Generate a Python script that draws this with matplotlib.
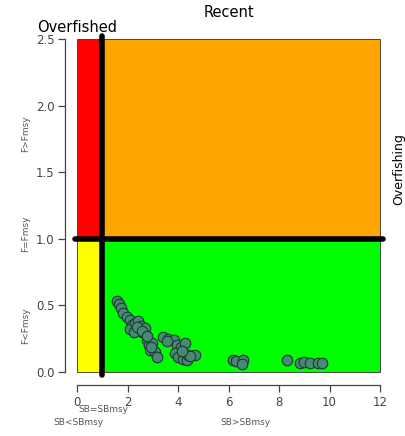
import matplotlib
matplotlib.use("Agg")
import matplotlib.pyplot as plt
from matplotlib.patches import Rectangle

# stock status points (SB/SBmsy, F/Fmsy)
sb = [1.57, 1.66, 1.74, 1.83, 1.97, 2.10, 2.17, 2.10, 2.30, 2.43, 2.53, 2.59,
      2.69, 2.27, 2.76, 2.83, 2.96, 2.89, 3.09, 3.16, 2.36, 2.56, 2.78, 2.92,
      3.42, 3.62, 3.82, 3.95, 4.10, 4.28, 3.88, 4.01, 4.21, 4.34, 4.41, 4.67,
      4.48, 3.55, 4.15,
      6.19, 6.30, 6.59, 6.55,
      8.30, 8.83, 9.00, 9.21, 9.56, 9.69]
f = [0.53, 0.51, 0.48, 0.445, 0.415, 0.39, 0.35, 0.32, 0.365, 0.38, 0.345, 0.30,
     0.33, 0.30, 0.24, 0.20, 0.215, 0.165, 0.15, 0.115, 0.34, 0.31, 0.27, 0.185,
     0.265, 0.25, 0.24, 0.20, 0.19, 0.215, 0.14, 0.115, 0.10, 0.09, 0.127, 0.127,
     0.12, 0.23, 0.16,
     0.09, 0.085, 0.09, 0.06,
     0.09, 0.07, 0.075, 0.07, 0.07, 0.07]

xmax = 12
ymax = 2.5
sb_ref = 1
f_ref = 1

fig = plt.figure(figsize=(4.06, 4.36), dpi=100)
ax = fig.add_axes([0.160, 0.1163, 0.806, 0.8248])
ax.set_xlim(-0.48, 12.48)
ax.set_ylim(-0.1, 2.6)

# quadrants
edge = dict(edgecolor="#333333", linewidth=0.6)
ax.add_patch(Rectangle((0, 0), sb_ref, f_ref, facecolor="#FFFF00", **edge))
ax.add_patch(Rectangle((sb_ref, 0), xmax - sb_ref, f_ref, facecolor="#00FF00", **edge))
ax.add_patch(Rectangle((0, f_ref), sb_ref, ymax - f_ref, facecolor="#FF0000", **edge))
ax.add_patch(Rectangle((sb_ref, f_ref), xmax - sb_ref, ymax - f_ref, facecolor="#FFA500", **edge))

ax.scatter(sb, f, s=58, facecolor="#458B74", edgecolor="#1f3a30", linewidth=0.8, zorder=3)

ax.plot([sb_ref, sb_ref], [-0.02, ymax + 0.02], color="black", lw=4,
        solid_capstyle="round", zorder=4)
ax.plot([-0.1, xmax + 0.1], [f_ref, f_ref], color="black", lw=4,
        solid_capstyle="round", zorder=4)

# R style axes
for s in ["top", "right"]:
    ax.spines[s].set_visible(False)
ax.spines["left"].set_bounds(0, ymax)
ax.spines["bottom"].set_bounds(0, xmax)
for s in ["left", "bottom"]:
    ax.spines[s].set_color("#444444")
    ax.spines[s].set_linewidth(0.9)
ax.set_xticks(range(0, 13, 2))
ax.set_yticks([0.0, 0.5, 1.0, 1.5, 2.0, 2.5])
ax.set_yticklabels(["0.0", "0.5", "1.0", "1.5", "2.0", "2.5"])
ax.tick_params(direction="out", length=5, width=0.9, color="#444444",
               labelsize=8.5, labelcolor="#444444", pad=2.5)

ax.set_title("Recent", fontsize=10.5, pad=6)
ax.text(0, 2.55, "Overfished", ha="center", va="baseline", fontsize=10.5, clip_on=False)
ax.text(12.72, 1.52, "Overfishing", ha="center", va="center", rotation=90,
        fontsize=9, clip_on=False)

lab = dict(fontsize=6.5, color="#555555", ha="center", va="center", rotation=90)
ax.text(-2.02, 1.79, "F>Fmsy", **lab)
ax.text(-2.02, 1.04, "F=Fmsy", **lab)
ax.text(-2.02, 0.345, "F<Fmsy", **lab)

bl = dict(fontsize=6.5, color="#555555", ha="center", va="center")
ax.text(1.03, -0.28, "SB=SBmsy", **bl)
ax.text(0.05, -0.38, "SB<SBmsy", **bl)
ax.text(6.65, -0.38, "SB>SBmsy", **bl)

fig.savefig("out.png", dpi=100)
